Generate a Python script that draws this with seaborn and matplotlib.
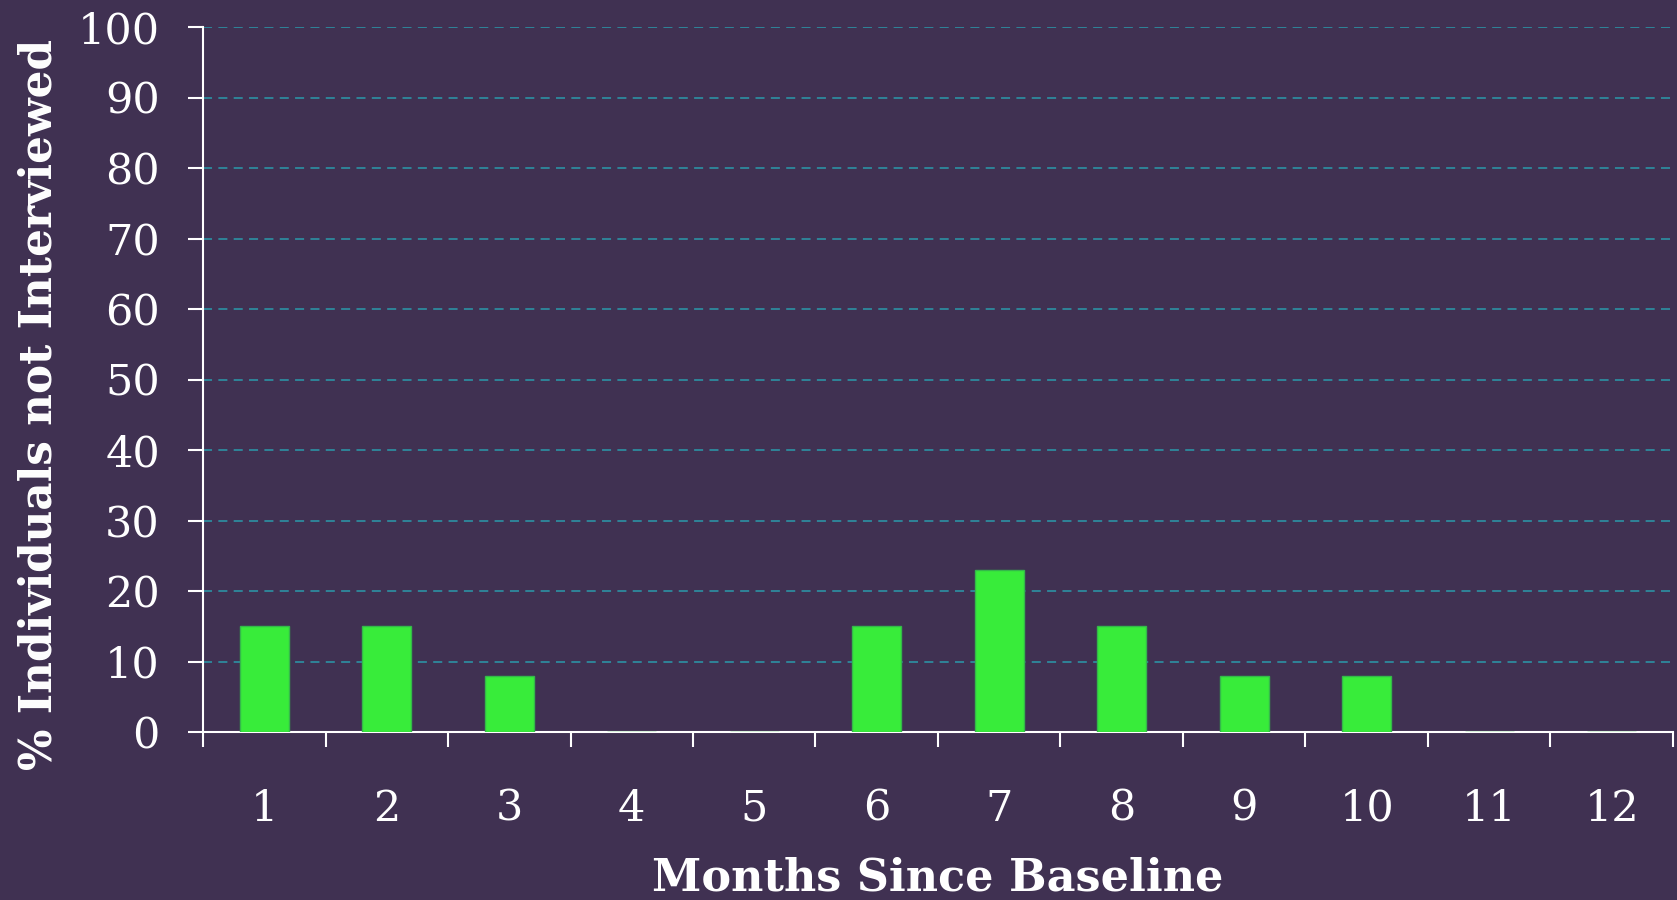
import matplotlib
matplotlib.use("Agg")
import matplotlib.pyplot as plt
import seaborn as sns
import pandas as pd
import numpy as np
from matplotlib.ticker import FixedLocator

months = ["1", "2", "3", "4", "5", "6", "7", "8", "9", "10", "11", "12"]
pct_not_interviewed = [15, 15, 8, 0, 0, 15, 23, 15, 8, 8, 0, 0]
y_ticks = [0, 10, 20, 30, 40, 50, 60, 70, 80, 90, 100]

BG = "#403152"
GRID = "#2e8a9e"
BAR = "#38ec3a"
BAR_EDGE = "#34b84a"
WHITE = "#ffffff"

sns.set_theme(style="white")
plt.rcParams["font.family"] = ["DejaVu Serif"]

df = pd.DataFrame({"month": months, "pct": pct_not_interviewed})

fig = plt.figure(figsize=(16.77, 9.0), dpi=100, facecolor=BG)
ax = fig.add_axes([203 / 1677, 1 - 732 / 900, 1470 / 1677, 705 / 900])
ax.set_facecolor(BG)

sns.barplot(data=df, x="month", y="pct", order=months, color=BAR, width=0.4,
            edgecolor=BAR_EDGE, linewidth=1.0, saturation=1, ax=ax, zorder=3)

ax.set_xlim(-0.5, len(months) - 0.5)
ax.set_ylim(0, 100)
ax.set_yticks(y_ticks)
ax.set_yticklabels([str(v) for v in y_ticks])

# major ticks at category boundaries, labels at centres via minor ticks
ax.xaxis.set_major_locator(FixedLocator(np.arange(-0.5, len(months), 1.0)))
ax.xaxis.set_minor_locator(FixedLocator(np.arange(len(months))))
ax.set_xticklabels([], minor=False)
ax.set_xticklabels(months, minor=True)
ax.tick_params(axis="x", which="major", bottom=True, length=11, width=1.5,
               color=WHITE, direction="out")
ax.tick_params(axis="x", which="minor", bottom=True, length=0, pad=40,
               labelsize=31, labelcolor=WHITE)
ax.tick_params(axis="y", which="major", left=True, length=11, width=1.5, color=WHITE,
               direction="out", pad=20, labelsize=31, labelcolor=WHITE)

for y in y_ticks[1:]:
    ax.axhline(y, color=GRID, linestyle=(0, (5, 3.5)), linewidth=1.3, zorder=1)

for s in ["top", "right"]:
    ax.spines[s].set_visible(False)
for s in ["left", "bottom"]:
    ax.spines[s].set_color(WHITE)
    ax.spines[s].set_linewidth(1.5)

ax.set_xlabel("Months Since Baseline", fontsize=32, fontweight="bold", color=WHITE)
ax.set_ylabel("% Individuals not Interviewed", fontsize=31.5, fontweight="bold", color=WHITE)
ax.xaxis.set_label_coords(0.5, -0.176)
ax.yaxis.set_label_coords(-0.097, 0.464)

fig.savefig("out.png", dpi=100, facecolor=BG)
